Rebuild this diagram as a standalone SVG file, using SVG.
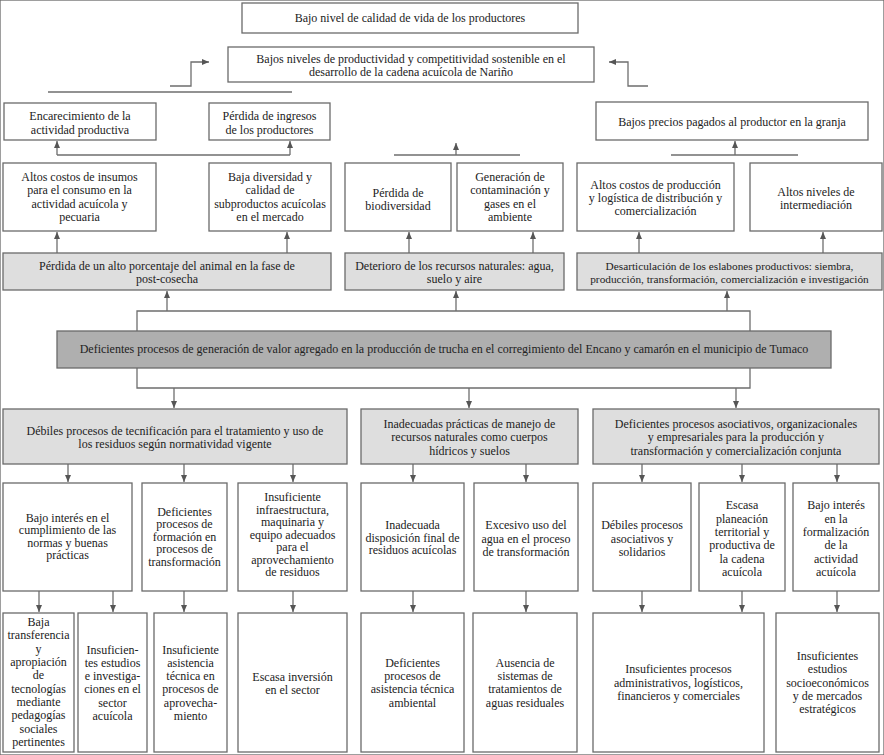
<svg xmlns="http://www.w3.org/2000/svg" width="884" height="755" viewBox="0 0 884 755" font-family="'Liberation Serif', 'Times New Roman', serif">
<style>
rect{stroke:#6a6a6a;stroke-width:1.3}
.w{fill:#fff}
.g{fill:#dedede}
.c{fill:#afafaf}
text{font-family:"Liberation Serif","Times New Roman",serif;font-size:12px;fill:#222;text-anchor:middle}
.ln{fill:none;stroke:#6e6e6e;stroke-width:1.3}
.ar{fill:none;stroke:#6e6e6e;stroke-width:1.3;marker-end:url(#ah)}
</style>
<defs>
<marker id="ah" markerUnits="userSpaceOnUse" markerWidth="7" markerHeight="6" refX="7" refY="3" orient="auto">
<path d="M0,0 L7,3 L0,6 z" fill="#555"/>
</marker>
</defs>
<rect x="0" y="0" width="884" height="755" fill="#fff" stroke="none"/>

<g id="connectors">
<polyline class="ar" points="170,86 191,86 191,62 209,62"/>
<polyline class="ar" points="648,86 628,86 628,62 609,62"/>
<line class="ln" x1="48" y1="92" x2="292" y2="92"/>
<line class="ln" x1="57" y1="155" x2="290" y2="155"/>
<line class="ar" x1="57" y1="155" x2="57" y2="141"/>
<line class="ar" x1="290" y1="155" x2="290" y2="141"/>
<line class="ln" x1="394" y1="155" x2="520" y2="155"/>
<line class="ar" x1="456" y1="155" x2="456" y2="143"/>
<line class="ln" x1="671" y1="155" x2="798" y2="155"/>
<line class="ar" x1="735" y1="155" x2="735" y2="141"/>
<line class="ar" x1="57" y1="253" x2="57" y2="232"/>
<line class="ar" x1="287" y1="253" x2="287" y2="232"/>
<line class="ar" x1="409" y1="253" x2="409" y2="232"/>
<line class="ar" x1="533" y1="253" x2="533" y2="232"/>
<line class="ar" x1="639" y1="253" x2="639" y2="232"/>
<line class="ar" x1="823" y1="253" x2="823" y2="232"/>
<polyline class="ln" points="137,331 137,311 750,311 750,331"/>
<line class="ar" x1="167" y1="311" x2="167" y2="291"/>
<line class="ar" x1="456" y1="311" x2="456" y2="291"/>
<line class="ar" x1="727" y1="311" x2="727" y2="291"/>
<polyline class="ln" points="137,368 137,388 750,388 750,368"/>
<line class="ar" x1="174" y1="388" x2="174" y2="408"/>
<line class="ar" x1="469" y1="388" x2="469" y2="408"/>
<line class="ar" x1="736" y1="388" x2="736" y2="408"/>
<line class="ar" x1="68" y1="464" x2="68" y2="482"/>
<line class="ar" x1="184" y1="464" x2="184" y2="482"/>
<line class="ar" x1="293" y1="464" x2="293" y2="482"/>
<line class="ar" x1="413" y1="464" x2="413" y2="482"/>
<line class="ar" x1="526" y1="464" x2="526" y2="482"/>
<line class="ar" x1="642" y1="464" x2="642" y2="482"/>
<line class="ar" x1="742" y1="464" x2="742" y2="482"/>
<line class="ar" x1="837" y1="464" x2="837" y2="482"/>
<line class="ar" x1="39" y1="591" x2="39" y2="612"/>
<line class="ar" x1="113" y1="591" x2="113" y2="612"/>
<line class="ar" x1="184" y1="591" x2="184" y2="612"/>
<line class="ar" x1="293" y1="591" x2="293" y2="612"/>
<line class="ar" x1="413" y1="591" x2="413" y2="612"/>
<line class="ar" x1="526" y1="591" x2="526" y2="612"/>
<line class="ar" x1="642" y1="591" x2="642" y2="612"/>
<line class="ar" x1="742" y1="591" x2="742" y2="612"/>
<line class="ar" x1="837" y1="591" x2="837" y2="612"/>
</g>

<g id="n1"><rect class="w" x="242" y="3" width="336" height="30"/>
<text x="410" y="22">Bajo nivel de calidad de vida de los productores</text></g>
<g id="n2"><rect class="w" x="228" y="47" width="366" height="35"/>
<text x="411"><tspan x="411" y="63">Bajos niveles de productividad y competitividad sostenible en el</tspan><tspan x="411" y="76">desarrollo de la cadena acuícola de Nariño</tspan></text></g>
<g id="n3"><rect class="w" x="4" y="103" width="152" height="37"/>
<text x="80"><tspan x="80" y="120">Encarecimiento de la</tspan><tspan x="80" y="134">actividad productiva</tspan></text></g>
<g id="n4"><rect class="w" x="209" y="103" width="121" height="37"/>
<text x="269.5"><tspan x="269.5" y="120">Pérdida de ingresos</tspan><tspan x="269.5" y="134">de los productores</tspan></text></g>
<g id="n5"><rect class="w" x="596" y="102" width="272" height="38"/>
<text x="732" y="126">Bajos precios pagados al productor en la granja</text></g>

<g id="n6"><rect class="w" x="3" y="163" width="153" height="68"/>
<text><tspan x="79.5" y="180.5">Altos costos de insumos</tspan><tspan x="79.5" y="194">para el consumo en la</tspan><tspan x="79.5" y="207.5">actividad acuícola y</tspan><tspan x="79.5" y="221">pecuaria</tspan></text></g>
<g id="n7"><rect class="w" x="209" y="163" width="122" height="68"/>
<text><tspan x="270" y="180.5">Baja diversidad y</tspan><tspan x="270" y="194">calidad de</tspan><tspan x="270" y="207.5">subproductos acuícolas</tspan><tspan x="270" y="221">en el mercado</tspan></text></g>
<g id="n8"><rect class="w" x="345" y="163" width="106" height="68"/>
<text><tspan x="398" y="196.5">Pérdida de</tspan><tspan x="398" y="210">biodiversidad</tspan></text></g>
<g id="n9"><rect class="w" x="457" y="163" width="106" height="68"/>
<text><tspan x="510" y="180.5">Generación de</tspan><tspan x="510" y="194">contaminación y</tspan><tspan x="510" y="207.5">gases en el</tspan><tspan x="510" y="221">ambiente</tspan></text></g>
<g id="n10"><rect class="w" x="577" y="163" width="157" height="68"/>
<text><tspan x="655.5" y="189">Altos costos de producción</tspan><tspan x="655.5" y="202">y logística de distribución y</tspan><tspan x="655.5" y="215">comercialización</tspan></text></g>
<g id="n11"><rect class="w" x="750" y="163" width="132" height="68"/>
<text><tspan x="816" y="195.5">Altos niveles de</tspan><tspan x="816" y="209">intermediación</tspan></text></g>

<g id="n12"><rect class="g" x="3" y="253" width="328" height="37"/>
<text><tspan x="167" y="270">Pérdida de un alto porcentaje del animal en la fase de</tspan><tspan x="167" y="283">post-cosecha</tspan></text></g>
<g id="n13"><rect class="g" x="345" y="253" width="219" height="37"/>
<text><tspan x="454.5" y="270">Deterioro de los recursos naturales: agua,</tspan><tspan x="454.5" y="283">suelo y aire</tspan></text></g>
<g id="n14"><rect class="g" x="577" y="253" width="305" height="37"/>
<text style="font-size:11.3px"><tspan x="729.5" y="270">Desarticulación de los eslabones productivos: siembra,</tspan><tspan x="729.5" y="283">producción, transformación, comercialización e investigación</tspan></text></g>

<g id="n0"><rect class="c" x="57" y="331" width="774" height="37"/>
<text x="444" y="353">Deficientes procesos de generación de valor agregado en la producción de trucha en el corregimiento del Encano y camarón en el municipio de Tumaco</text></g>

<g id="n15"><rect class="g" x="3" y="409" width="344" height="55"/>
<text><tspan x="175" y="435">Débiles procesos de tecnificación para el tratamiento y uso de</tspan><tspan x="175" y="448">los residuos según normatividad vigente</tspan></text></g>
<g id="n16"><rect class="g" x="361" y="409" width="217" height="55"/>
<text><tspan x="469.5" y="427.5">Inadecuadas prácticas de manejo de</tspan><tspan x="469.5" y="441">recursos naturales como cuerpos</tspan><tspan x="469.5" y="454.5">hídricos y suelos</tspan></text></g>
<g id="n17"><rect class="g" x="593" y="409" width="286" height="55"/>
<text><tspan x="736" y="427.5">Deficientes procesos asociativos, organizacionales</tspan><tspan x="736" y="441">y empresariales para la producción y</tspan><tspan x="736" y="454.5">transformación y comercialización conjunta</tspan></text></g>

<g id="n18"><rect class="w" x="3" y="483" width="129" height="108"/>
<text><tspan x="67.5" y="521.5">Bajo interés en el</tspan><tspan x="67.5" y="534">cumplimiento de las</tspan><tspan x="67.5" y="546.5">normas y buenas</tspan><tspan x="67.5" y="559">prácticas</tspan></text></g>
<g id="n19"><rect class="w" x="142" y="483" width="85" height="108"/>
<text><tspan x="184.5" y="515.5">Deficientes</tspan><tspan x="184.5" y="528">procesos de</tspan><tspan x="184.5" y="540.5">formación en</tspan><tspan x="184.5" y="553">procesos de</tspan><tspan x="184.5" y="566">transformación</tspan></text></g>
<g id="n20"><rect class="w" x="238" y="483" width="109" height="108"/>
<text><tspan x="292.5" y="501">Insuficiente</tspan><tspan x="292.5" y="513.5">infraestructura,</tspan><tspan x="292.5" y="526">maquinaria y</tspan><tspan x="292.5" y="538.5">equipo adecuados</tspan><tspan x="292.5" y="551">para el</tspan><tspan x="292.5" y="563.5">aprovechamiento</tspan><tspan x="292.5" y="576">de residuos</tspan></text></g>
<g id="n21"><rect class="w" x="361" y="483" width="103" height="108"/>
<text><tspan x="412.5" y="529">Inadecuada</tspan><tspan x="412.5" y="541.5">disposición final de</tspan><tspan x="412.5" y="554">residuos acuícolas</tspan></text></g>
<g id="n22"><rect class="w" x="474" y="483" width="104" height="108"/>
<text><tspan x="526" y="529">Excesivo uso del</tspan><tspan x="526" y="542.5">agua en el proceso</tspan><tspan x="526" y="556">de transformación</tspan></text></g>
<g id="n23"><rect class="w" x="593" y="483" width="98" height="108"/>
<text><tspan x="642" y="529">Débiles procesos</tspan><tspan x="642" y="542.5">asociativos y</tspan><tspan x="642" y="556">solidarios</tspan></text></g>
<g id="n24"><rect class="w" x="699" y="483" width="86" height="108"/>
<text><tspan x="742" y="509">Escasa</tspan><tspan x="742" y="522.5">planeación</tspan><tspan x="742" y="536">territorial y</tspan><tspan x="742" y="549">productiva de</tspan><tspan x="742" y="562.5">la cadena</tspan><tspan x="742" y="576">acuícola</tspan></text></g>
<g id="n25"><rect class="w" x="793" y="483" width="86" height="108"/>
<text><tspan x="836" y="509">Bajo interés</tspan><tspan x="836" y="522.5">en la</tspan><tspan x="836" y="536">formalización</tspan><tspan x="836" y="549">de la</tspan><tspan x="836" y="562.5">actividad</tspan><tspan x="836" y="576">acuícola</tspan></text></g>

<g id="n26"><rect class="w" x="3" y="613" width="71" height="139"/>
<text><tspan x="38.5" y="626">Baja</tspan><tspan x="38.5" y="639">transferencia</tspan><tspan x="38.5" y="652.5">y</tspan><tspan x="38.5" y="666">apropiación</tspan><tspan x="38.5" y="679">de</tspan><tspan x="38.5" y="692.5">tecnologías</tspan><tspan x="38.5" y="706">mediante</tspan><tspan x="38.5" y="719">pedagogías</tspan><tspan x="38.5" y="732.5">sociales</tspan><tspan x="38.5" y="746">pertinentes</tspan></text></g>
<g id="n27"><rect class="w" x="78" y="613" width="69" height="139"/>
<text><tspan x="112.5" y="654">Insuficien-</tspan><tspan x="112.5" y="667">tes estudios</tspan><tspan x="112.5" y="680">e investiga-</tspan><tspan x="112.5" y="693">ciones en el</tspan><tspan x="112.5" y="706.5">sector</tspan><tspan x="112.5" y="720">acuícola</tspan></text></g>
<g id="n28"><rect class="w" x="154" y="613" width="73" height="139"/>
<text><tspan x="190.5" y="654">Insuficiente</tspan><tspan x="190.5" y="667">asistencia</tspan><tspan x="190.5" y="680">técnica en</tspan><tspan x="190.5" y="693">procesos de</tspan><tspan x="190.5" y="706.5">aprovecha-</tspan><tspan x="190.5" y="720">miento</tspan></text></g>
<g id="n29"><rect class="w" x="238" y="613" width="109" height="139"/>
<text><tspan x="292.5" y="681">Escasa inversión</tspan><tspan x="292.5" y="693.5">en el sector</tspan></text></g>
<g id="n30"><rect class="w" x="361" y="613" width="103" height="139"/>
<text><tspan x="412.5" y="667">Deficientes</tspan><tspan x="412.5" y="680">procesos de</tspan><tspan x="412.5" y="693">asistencia técnica</tspan><tspan x="412.5" y="706.5">ambiental</tspan></text></g>
<g id="n31"><rect class="w" x="473" y="613" width="104" height="139"/>
<text><tspan x="525" y="667">Ausencia de</tspan><tspan x="525" y="680">sistemas de</tspan><tspan x="525" y="693">tratamientos de</tspan><tspan x="525" y="706.5">aguas residuales</tspan></text></g>
<g id="n32"><rect class="w" x="593" y="613" width="171" height="139"/>
<text><tspan x="678.5" y="673">Insuficientes procesos</tspan><tspan x="678.5" y="686.5">administrativos, logísticos,</tspan><tspan x="678.5" y="700">financieros y comerciales</tspan></text></g>
<g id="n33"><rect class="w" x="776" y="613" width="103" height="139"/>
<text><tspan x="827.5" y="660">Insuficientes</tspan><tspan x="827.5" y="673">estudios</tspan><tspan x="827.5" y="686.5">socioeconómicos</tspan><tspan x="827.5" y="700">y de mercados</tspan><tspan x="827.5" y="713">estratégicos</tspan></text></g>
</svg>
